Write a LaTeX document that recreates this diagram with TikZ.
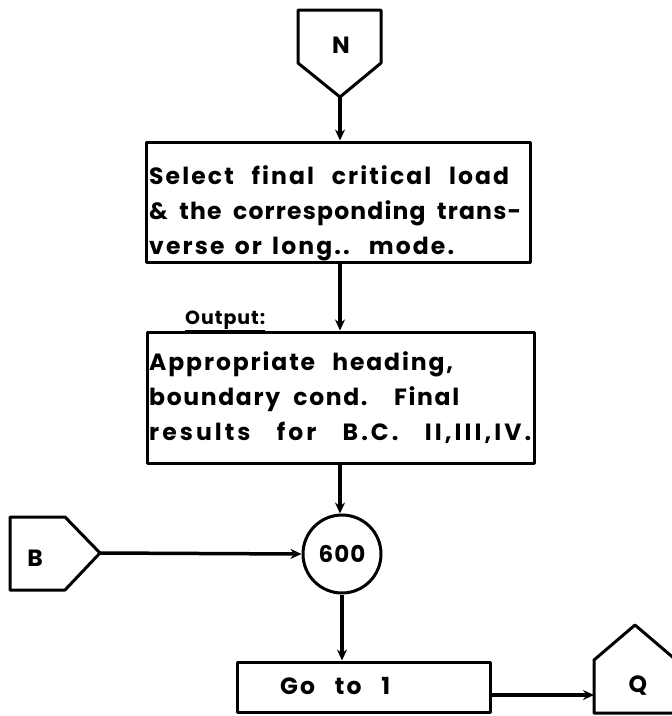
\documentclass[tikz,border=0pt]{standalone}
\usepackage{fontspec}
\setmainfont{Poppins}[LetterSpace=5,WordSpace=1]
\usetikzlibrary{arrows.meta}
\newcommand\fitline[3]{\makebox[#1pt][s]{\addfontfeatures{LetterSpace=#2}#3}}
\begin{document}
\begin{tikzpicture}[x=1pt,y=-1pt,line join=round,
  txt/.style={font=\fontsize{23.5}{35}\selectfont\bfseries},
  boxed/.style={draw,line width=3pt,inner sep=0pt},
  body/.style={txt,align=left,inner sep=0pt,anchor=west},
  conn/.style={draw,line width=3pt},
  flow/.style={line width=3.5pt,-{Stealth[length=11pt,width=10pt]}}]
\useasboundingbox (0,0) rectangle (672,716);
% connector N
\draw[conn] (298,10) -- (381,10) -- (381,63) -- (340,97) -- (298,63) -- cycle;
\node[txt] (nlab) at (341,45) {N};
\coordinate (ntip) at (340,97);
% box 1
\node[boxed,minimum width=384pt,minimum height=120pt] (sel) at (338,202) {};
\node[body] (seltext) at (149,213)
  {\fitline{360}{9}{Select final critical load}\\
   \fitline{372}{5}{\& the corresponding trans-}\\
   \fitline{305}{9}{verse or long.. mode.}};
% output label
\node[font=\fontsize{19}{24}\selectfont\bfseries,anchor=base west,inner sep=0pt] (outlab) at (185,324) {\underline{Output:}};
% box 2
\node[boxed,minimum width=387pt,minimum height=131pt] (res) at (340.5,397.5) {};
\node[body] (restext) at (149,397.5)
  {\fitline{304}{8}{Appropriate heading,}\\
   \fitline{310}{7}{boundary cond.\ \ Final}\\
   \fitline{382}{13}{results for B.C. II,III,IV.}};
% circle 600
\node[draw,circle,line width=3pt,minimum size=78pt,inner sep=0pt,font=\fontsize{23}{28}\selectfont\bfseries] (c600) at (342,554) {600};
% connector B
\draw[conn] (10,517) -- (65,517) -- (100,553) -- (65,590) -- (10,590) -- cycle;
\node[txt] (blab) at (35,558) {B};
\coordinate (btip) at (100,553);
% go to box
\node[boxed,minimum width=253pt,minimum height=50pt] (go) at (363.5,687) {};
\node[body] (gotext) at (280,686) {\fitline{110}{9}{Go to 1}};
% connector Q
\draw[conn] (594,713) -- (594,660) -- (635,625) -- (676,660) -- (676,713) -- cycle;
\node[txt] (qlab) at (638,686) {Q};
\coordinate (qin) at (594,695);
% flows
\draw[flow] (ntip) -- (ntip |- sel.north);
\draw[flow] (ntip |- sel.south) -- (ntip |- res.north);
\draw[flow] (ntip |- res.south) -- (ntip |- c600.north);
\draw[flow] (btip) -- (c600.west);
\draw[flow] (c600.south) -- (c600.south |- go.north);
\draw[flow] (go.east |- qin) -- (qin);
\end{tikzpicture}
\end{document}
